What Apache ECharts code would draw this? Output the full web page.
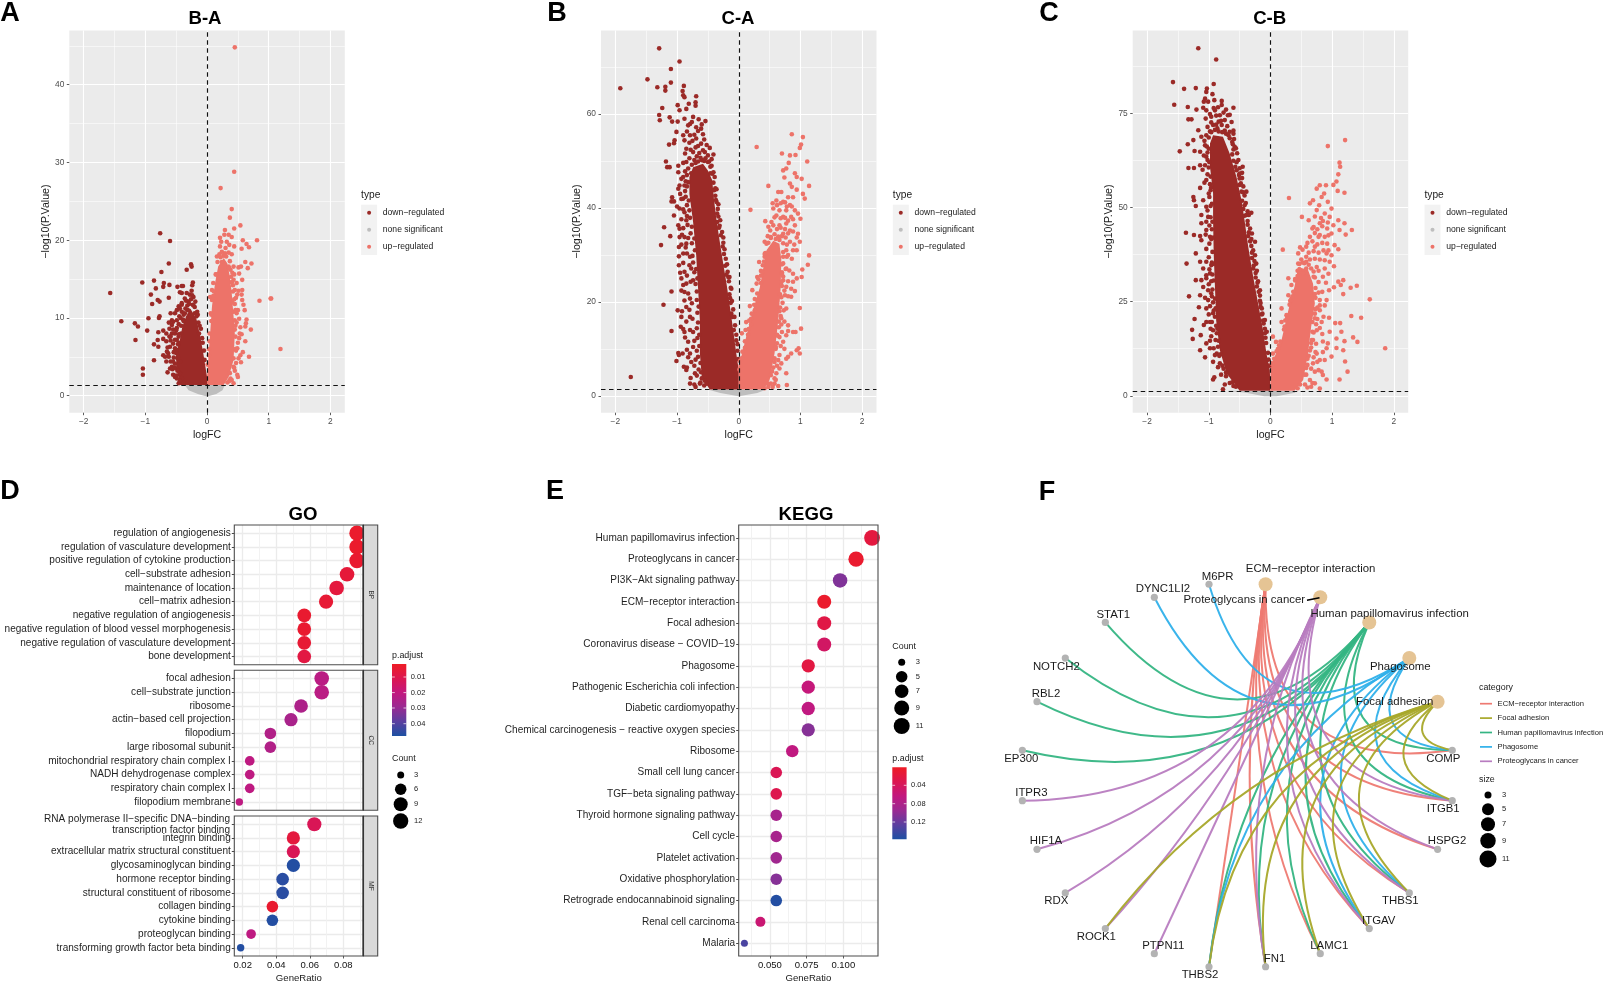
<!DOCTYPE html>
<html><head><meta charset="utf-8">
<style>html,body{margin:0;padding:0;background:#fff}#c{width:1606px;height:985px}</style>
<script src="https://cdn.jsdelivr.net/npm/echarts@6/dist/echarts.min.js"></script>
</head><body><div id="c"></div>
<script>
/* ---------- volcano data: dense-core outlines and individually read points ---------- */
const baGrey=[[-.36,1.37],[-.3,.7],[-.15,.2],[0,-.1],[.15,.2],[.25,.7],[.29,1.37]];
const baDownCore=[[-.44,1.37],[-.5,3.7],[-.5,5.5],[-.44,7.2],[-.4,8.9],[-.34,10.2],[-.27,11.2],[-.17,9.8],[-.11,7.6],[-.06,5.4],[0,2.4],[0,1.37]];
const baUpCore=[[0,1.37],[.27,1.37],[.35,2.4],[.43,4.6],[.45,8],[.43,10.2],[.4,13.2],[.37,15.3],[.33,17],[.27,17.7],[.18,16.6],[.13,14.5],[.08,11.5],[.05,8],[.02,4.6],[0,2.4]];
const baDown=[[-1.57,13.2],[-1.39,9.57],[-1.17,9.3],[-1.12,8.9],[-1.16,7.17],[-.97,8.37],[-.95,9.96],[-1.04,3.5],[-1.04,2.7],[-1.05,14.55],[-.86,14.8],[-.91,13],[-.89,11.8],[-.83,13.8],[-.8,12.3],[-.77,12.1],[-.7,14.5],[-.71,14],[-.61,14.25],[-.62,12.6],[-.76,20.9],[-.6,19.9],[-.62,17],[-.74,15.9],[-.33,16.2],[-.26,16.9],[-.25,16.6],[-.48,14],[-.41,14.1],[-.39,14.1],[-.23,14.55],[-.24,14.2],[-.44,13.3],[-.41,13.2],[-.25,13.5],[-.33,13.2],[-.28,13],[-.22,12.7],[-.36,12.5],[-.3,12.1],[-.19,12.1],[-.41,11.7],[-.23,11.7],[-.77,10.2],[-.78,10],[-.79,8.15],[-.71,8.37],[-.8,7.17],[-.71,7.3],[-.86,6.6],[-.79,6.3],[-.86,4.55],[-.71,5.2],[-.68,5],[-.63,5.45],[-.65,5.67],[-.59,10.6],[-.57,9.7],[-.57,9.1],[-.55,8.5],[-.57,8],[-.59,7.6],[-.52,10.6],[-.49,11],[-.46,11.5],[-.44,11.2],[-.41,11.9],[-.59,7.1],[-.55,6.7],[-.6,6.3],[-.52,6.1],[-.49,7.2],[-.46,7.6],[-.52,8],[-.49,8.7],[-.55,9.5],[-.49,9.7],[-.45,10.2],[-.41,10.8],[-.38,10.4],[-.6,3.5],[-.57,3.7],[-.64,3],[-.52,4.1],[-.49,3.5],[-.55,2.7],[-.44,2.9],[-.41,2.2],[-.49,2.2],[-.46,1.6],[-.38,1.6],[-.55,4.4],[-.48,4.8],[-.44,4.4],[-.5,5.5],
[-.34,12.2],[-.26,12.4],[-.2,11.4],[-.32,11.6],[-.15,10.4],[-.14,9.4],[-.36,10.6],[-.43,10],[-.46,9.2],[-.42,9],[-.5,8.4],[-.46,7.9],[-.52,7.2],[-.47,6.6],[-.5,5.9],[-.54,5.6],[-.47,5],[-.54,4.9],[-.56,3.4],[-.48,3.2],[-.52,2.4],[-.44,1.9],[-.1,8.6],[-.08,7.4],[-.05,5.8],[-.17,10.2],[-.24,12.9],[-.31,11],[-.39,9.8],[-.61,7.6],[-.66,7],[-.64,6.2],[-.62,5],[-.66,4.4],[-.59,4.4],[-.62,9.4],[-.61,8.6],[-.66,8],
[-.12,9],[-.07,6.8],[-.04,4.6],[-.2,10.6],[-.22,11.6],[-.29,11.8],[-.35,11.2],[-.38,9.6],[-.42,8],[-.46,6.8],[-.53,3.6],[-.5,2.6],[-.16,10.8],[-.13,8]];
const baUp=[[.45,44.8],[.44,28.8],[.22,26.7],[.4,24],[.37,22.9],[.54,21.9],[.44,21.5],[.29,21.3],[.81,20],[.58,20],[.64,19.5],[.68,19.1],[.44,19.2],[.56,18.9],[.62,17.2],[.72,17],[.66,16.4],[.51,16.5],[.55,16.6],[.52,15.7],[.44,15.6],[.57,14.9],[.48,14.5],[.51,13.5],[.57,13.6],[.49,13],[.56,13],[.57,12.3],[.85,12.2],[1.03,12.5],[1.04,12.5],[.59,11.7],[.61,11],[.43,10.8],[.64,9.8],[.63,9.3],[.62,8.9],[.71,8.5],[.54,8.8],[.45,8.5],[.56,7.9],[.46,7.6],[.62,7],[1.19,6],[.49,6.1],[.58,5.6],[.54,5.2],[.68,5],[.43,4.8],[.51,4.8],[.55,4.3],[.47,4.2],[.43,3.7],[.49,2.7],[.5,2.4],[.43,1.6],[.37,2.9],[.21,20.3],[.28,20.7],[.35,20.7],[.4,20.4],[.21,19.2],[.24,18.5],[.32,19.8],[.36,19.4],[.16,17.9],[.4,18.2],[.29,18.3],[.37,17.3],[.43,16.6],[.39,15.3],[.43,14.9],[.1,14.5],[.08,13.6],[.05,12.7],[.08,12.3],[.45,13.6],[.48,10.6],[.45,9.7],
[.23,19.8],[.3,19],[.27,18],[.35,18.4],[.2,18.2],[.17,17.2],[.24,17.2],[.35,16.6],[.41,15.8],[.38,16.2],[.14,15.6],[.11,13.4],[.42,14.2],[.47,12.6],[.45,11.8],[.06,10.6],[.07,9.6],[.48,9.4],[.52,7.4],[.5,6.8],[.47,5.8],[.45,3.2],[.4,2],[.33,1.7],[.04,7],[.03,5.2],[.5,11],[.46,11],[.52,9.9],[.53,8],[.41,12],[.36,1.9],
[.46,6],[.46,9],[.44,12.4],[.42,13.4],[.4,14.6],[.36,16.4],[.31,17.9],[.22,17.8],[.15,15.6],[.1,12.8],[.07,10.4],[.04,8],[.03,6],[.01,4],[.44,3.6],[.38,2.2]];

const caGrey=[[-.5,1.35],[-.3,.6],[0,-.1],[.3,.6],[.45,1.35]];
const caDownCore=[[-.47,1.35],[-.6,4],[-.63,9],[-.63,16],[-.66,23],[-.69,30],[-.74,37],[-.8,43],[-.8,46.6],[-.74,48.7],[-.58,49.4],[-.5,48],[-.43,45.9],[-.4,41.6],[-.36,37.4],[-.31,33],[-.25,28],[-.2,24],[-.15,19.6],[-.09,14],[-.04,9],[0,5.5],[0,1.35]];
const caUpCore=[[0,1.35],[.4,1.35],[.5,3.3],[.58,9],[.64,16],[.68,23],[.69,29],[.66,32.4],[.56,33],[.45,31],[.4,27.4],[.34,23],[.23,18.2],[.12,12.5],[.04,8.3],[0,6.2]];
const caDown=[[-1.29,74],[-.96,71.2],[-1.1,69.6],[-1.48,67.4],[-1.1,66.7],[-1.92,65.5],[-1.32,65.7],[-1.19,65.8],[-1.19,65],[-.89,66],[-.91,64.9],[-.9,64],[-.88,63.6],[-.69,63.8],[-.99,61.9],[-.81,62.2],[-.7,62.5],[-.7,61.8],[-1.24,61.3],[-.96,60.8],[-.85,61.1],[-1.29,59.8],[-1.28,58.7],[-1.12,59.3],[-1.08,58.4],[-.99,58.4],[-.88,59],[-.74,59.4],[-.65,58.9],[-.54,58.5],[-.79,57.9],[-.69,57.2],[-.61,56.9],[-1.01,56.2],[-.9,55.5],[-.79,55.5],[-1.04,54.4],[-1.13,53.5],[-1.05,53.8],[-.88,54.4],[-.69,54.8],[-.61,53.7],[-.47,52.8],[-.55,51.9],[-.41,51.4],[-.85,52.6],[-.74,51.9],[-.5,51.2],[-1.18,49.9],[-1.16,48.7],[-1.12,48.7],[-.98,49],[-.98,47.6],[-.85,49.8],[-.9,46.6],[-.96,44.8],[-.88,44.8],[-.95,43],[-1.08,42.3],[-1.09,41.4],[-1.05,41.4],[-.9,42],[-.96,39.9],[-1.05,38.4],[-.88,39.1],[-.85,37.4],[-.96,35.6],[-1.21,35.9],[-1.11,34],[-.96,33.8],[-1.26,32.1],[-.88,33.8],[-.97,31.7],[-.85,32.4],[-.9,30.3],[-.79,29.6],[-.97,27.8],[-.88,26.4],[-.77,27.1],[-.93,25],[-.85,23.9],[-.74,24.6],[-1.09,22.2],[-.88,22.1],[-.79,20.7],[-1.22,19.4],[-.99,18.2],[-.85,18.9],[-.93,16.8],[-.79,16.8],[-.94,14.7],[-1.09,13.8],[-.88,13.6],[-.79,14],[-.82,11.5],[-.98,9.1],[-.97,8.7],[-.79,9],[-.91,9],[-1.01,7.4],[-.89,6.2],[-.77,7.2],[-.85,5.5],[-1.75,4],[-.71,4.8],[-.79,2.6],[-.7,1.9],[-.63,2.6],[-.6,3.7],[-.25,33.7],[-.35,37],[-.36,41.3],[-.4,43.8],[-.43,47.3],[-.17,25.3],[-.15,25.3],[-.12,22.8],[-.12,17.5],[-.1,16.8],[-.08,14],[-.04,11.8],
[-.82,57.6],[-.76,58.3],[-.6,57.8],[-.84,56.3],[-.72,55.6],[-.66,56.4],[-.58,55.7],[-.8,53.9],[-.75,54.3],[-.66,53.2],[-.56,54.6],[-.52,53.4],[-.87,51.6],[-.78,52.4],[-.7,52.9],[-.64,51.7],[-.58,52.3],[-.9,49.6],[-.8,50.6],[-.72,50.2],[-.62,50.7],[-.48,49.9],[-.44,50.4],[-.87,47.8],[-.82,48.4],[-.46,48.8],[-.41,47.6],[-.93,46.2],[-.86,45.7],[-.41,45.4],[-.98,44.1],[-.87,43.6],[-.84,44.6],[-.38,44.2],[-.93,41.9],[-.86,42.4],[-.37,41.7],[-1,40.3],[-.9,39.7],[-.84,40.6],[-.34,39.8],[-.93,37.6],[-.84,38.3],[-.79,37.9],[-.33,38.2],[-.98,36.3],[-.9,35.7],[-.83,36.4],[-.32,35.8],[-.92,34.3],[-.82,33.6],[-.78,34.6],[-.29,34.2],[-.93,32.2],[-.86,31.6],[-.76,32.5],[-.26,31.8],[-.97,29.7],[-.84,30.3],[-.75,29.8],[-.24,30.2],[-.9,28.3],[-.8,27.8],[-.74,28.4],[-.22,27.7],[-.95,26.2],[-.84,25.6],[-.72,26.3],[-.2,25.8],[-.9,23.6],[-.78,24.3],[-.7,23.8],[-.82,21.8],[-.93,22.4],[-.68,22.2],[-.15,21.6],[-.88,20.3],[-.76,19.7],[-.68,20.4],[-.13,19.8],[-.92,18],[-.8,18.3],[-.67,17.7],[-.85,15.8],[-.75,16.4],[-.66,15.6],[-.9,14.2],[-.74,13.6],[-.68,14.4],[-.87,12.4],[-.72,11.7],[-.67,12.3],[-.84,9.8],[-.74,10.4],[-.68,9.6],[-.82,8.2],[-.7,7.7],[-.66,8.3],[-.84,6],[-.72,6.4],[-.65,5.6],[-.78,3.8],[-.68,4.3],[-.72,2.4],[-.62,2.8],[-.56,2.2],[-.52,2.6],
[-.44,49],[-.39,46.6],[-.36,44],[-.38,42.6],[-.33,40.8],[-.35,38.8],[-.3,37.4],[-.31,36.2],[-.27,34.9],[-.25,32.6],[-.23,31.2],[-.21,29.2],[-.19,28],[-.18,26.4],[-.16,24.4],[-.13,23],[-.14,20.8],[-.11,20.2],[-.09,18.4],[-.07,16.8],[-.06,15],[-.04,13],[-.02,11],[-.02,9.6],[-.01,7.8],[-.77,47.4],[-.7,49.6],[-.66,49.9],[-.6,50.2],[-.54,50.6],[-.5,49.8],[-.68,51],[-.76,49.2],[-.56,50],[-.46,47.4],[-.82,45.5],[-.84,47],[-.81,41.6],[-.8,39.5],[-.76,36],[-.72,33.5],[-.71,31],[-.69,27],[-.67,25],[-.65,19],[-.64,13],[-.64,10.6],[-.62,7],[-.61,5],[-.55,3.2]];
const caUp=[[.86,55.7],[1.04,55.1],[.29,53],[1.01,53.5],[.99,52.8],[.7,51.6],[.83,51.2],[.92,51.3],[1.11,49.9],[.81,49.6],[.77,48.4],[.72,48],[.91,47.4],[.74,46.5],[.94,46.6],[1.02,46.2],[.83,45.2],[1.14,44.7],[.48,44.7],[.86,44.5],[.94,43.9],[.64,43.4],[.69,43.4],[1.04,43],[1.07,42],[.8,42.3],[.88,42.3],[.61,41.6],[.72,41.3],[.19,39.6],[.83,40.6],[.56,39.9],[.66,39.5],[.77,39.5],[.91,39.5],[.96,38.8],[.61,38.4],[.72,38.1],[.85,38.1],[1,37.7],[.43,37.2],[.53,37],[.77,36.7],[.66,36.3],[.91,36.3],[.51,35.2],[.72,34.5],[.83,35.2],[.96,34.5],[.94,33.7],[.42,32.8],[.99,32.8],[.83,32.8],[.77,31],[.88,31],[1.14,29.9],[.94,31],[.72,29.6],[.78,29.6],[.33,28.5],[.39,27.8],[1.12,27.9],[1.03,26.9],[.77,27.1],[.3,25.3],[.94,25],[1.02,25.3],[.29,23.9],[.88,24.3],[.72,24.6],[.77,23.2],[.85,22.8],[.91,22.3],[.22,22.5],[.75,21.4],[.85,21.1],[.18,19.1],[.99,18.7],[.77,18.6],[.21,17.5],[.69,16.5],[.12,15.7],[.8,15],[1.01,14.3],[.88,13.6],[.92,13.6],[.8,13.8],[.77,12.9],[.05,13.3],[.11,14],[.66,12.5],[.72,11.5],[.94,9.7],[.97,10.1],[.99,9],[.85,9],[.8,8.3],[.77,7.9],[.66,8.7],[.64,7.6],[.69,6.9],[.77,4.8],[.61,4.8],[.58,3.7],[.58,2.6],[.78,2.3],[.64,2.1],[.48,1.9],[.42,1.6],
[.55,41],[.62,40.6],[.68,41],[.75,41.2],[.78,40.3],[.86,40.3],[.58,38],[.68,37.8],[.75,37.9],[.8,37.3],[.88,37.6],[.48,36],[.56,36.3],[.62,35.5],[.68,35.8],[.75,35.5],[.8,34.6],[.88,35],[.47,34],[.52,33.8],[.58,34.4],[.64,33.9],[.7,34],[.76,33.7],[.45,32.4],[.72,32.5],[.78,32.2],[.9,32.2],[.72,30.6],[.8,30],[.86,29.2],[.72,28.2],[.76,27],[.82,26.7],[.88,26],[.7,26.3],[.72,25.4],[.8,24.4],[.7,23.4],[.74,22.4],[.8,21.2],[.69,21],[.71,19.8],[.67,18.8],[.73,18.2],[.68,17],[.69,15.2],[.74,15.8],[.65,14.6],[.7,13.6],[.63,12.8],[.62,11.2],[.68,10.6],[.6,10],[.74,10],[.58,7.2],[.62,6.4],[.66,5.8],[.54,5.2],[.6,3.4],[.52,2.6],[.55,1.9],[.36,26.6],[.32,24.8],[.26,20.6],[.2,16.4],[.16,14.2],[.1,11.6],[.3,21.8],[.25,19.4],[.17,16],[.36,25.6],[.42,29.6],[.43,30.4],[.06,9.4],[.02,7.4],
[.7,28],[.7,26],[.69,24.2],[.67,21.6],[.66,18],[.65,15.8],[.62,13],[.6,10.4],[.58,8],[.56,6],[.52,4.4],[.47,2.6],[.41,28.6],[.38,26.4],[.36,24],[.3,20.4],[.26,18.2],[.2,15.2],[.15,13],[.1,10.2],[.05,8],[.03,6.4],[.01,5.6],[.48,32.6],[.52,33.6],[.6,33.4],[.66,33.2],[.42,30.2]];

const cbGrey=[[-.7,1.33],[-.4,.8],[-.1,-.1],[.1,-.1],[.4,.8],[.4,1.33]];
const cbDownCore=[[-.5,1.33],[-.71,5.9],[-.82,12.1],[-.88,20],[-.9,29],[-.92,37.8],[-.93,46.6],[-.93,53.7],[-.98,60.8],[-.98,67],[-.93,69.2],[-.77,68.8],[-.66,64.3],[-.55,58],[-.47,52],[-.42,46.6],[-.36,39.6],[-.28,31.6],[-.2,24.5],[-.12,17.4],[-.065,11.2],[-.01,6.8],[0,1.33]];
const cbUpCore=[[0,1.33],[.39,1.33],[.53,4.2],[.61,11.2],[.66,18.3],[.72,24.5],[.69,29.8],[.61,33.4],[.45,34.2],[.39,29],[.29,22.7],[.18,14.8],[.07,10.4],[0,7.7]];
const cbDown=[[-1.17,92.3],[-.88,89.3],[-1.58,83.3],[-.92,82.8],[-1.4,81.5],[-1.21,81.7],[-1.03,81.6],[-1.04,80.7],[-.94,80.1],[-1.56,77.3],[-1.06,78.9],[-1.08,78.1],[-1.01,78.1],[-.91,78.5],[-.79,78.3],[-1.34,76.7],[-1.09,76.5],[-.79,77.2],[-.6,76.5],[-1.2,76],[-1.04,75.8],[-.9,75.8],[-1.33,73.4],[-1.28,73.4],[-.96,74.1],[-.82,74.5],[-.69,74.5],[-1.17,70.5],[-.93,71.9],[-.79,71.9],[-.63,72.7],[-.66,70.1],[-1.12,68.8],[-1.25,67.9],[-1.34,66.8],[-1.06,66.5],[-1.23,65],[-1.47,64.9],[-1.14,64.8],[-.58,66.1],[-1.04,63.5],[-.56,65.7],[-1.33,60.5],[-1.24,60.5],[-1.14,61.2],[-1.06,61.2],[-.45,60.8],[-.46,59.2],[-.55,59.9],[-1.04,57.3],[-.5,57.7],[-1.14,55.2],[-.39,54.2],[-1,53.7],[-1.25,52.8],[-1.24,51.9],[-1.09,51.9],[-1.21,50.4],[-.31,48.6],[-.35,48],[-1.04,50.2],[-1.12,48],[-1.01,47.5],[-1.04,46.2],[-1.12,45.8],[-1.37,43.3],[-1.24,42.7],[-1.14,42.4],[-1.04,44],[-.98,42.2],[-.3,43.1],[-.25,40.9],[-1.12,41.3],[-1.21,37.8],[-1.36,35.1],[-1.14,35.6],[-1.04,35.6],[-.96,34.7],[-.25,37.3],[-.23,35.1],[-1.09,33.8],[-.98,32.5],[-1.21,30.7],[-1.12,30.7],[-1.04,31.2],[-1.09,28.9],[-1.32,26.4],[-1.01,28],[-1.14,26.7],[-.96,27.2],[-1.01,25.4],[-.17,28],[-.16,23.6],[-1.16,23.5],[-1.04,23.2],[-.93,21.9],[-1.23,20.4],[-1.04,19.6],[-1.08,18.8],[-.98,19.6],[-1.27,17.5],[-1.13,16.1],[-.93,17.4],[-1.26,15.1],[-1.04,13.9],[-1.14,12.1],[-.98,12.6],[-1.06,10.2],[-.87,11.2],[-.93,9],[-.82,8.6],[-.93,4.3],[-.91,4.9],[-.77,1.7],[-.09,20.1],[-.06,17],
[-.92,76.4],[-.85,76.6],[-.72,76],[-.98,74.8],[-.88,74.4],[-.76,75.2],[-.66,74.6],[-1.05,73.6],[-.96,72.6],[-.84,72.8],[-.74,73.2],[-.7,71.6],[-1.02,71.4],[-.98,70.2],[-.86,71],[-.74,70.4],[-.6,70.4],[-1.04,69.2],[-1.07,67.7],[-.66,68.4],[-.59,68.2],[-1.03,66.2],[-.61,66.8],[-1.02,64.6],[-1.08,63.8],[-.62,64.1],[-.54,64.4],[-1.02,62.6],[-.6,62.4],[-.52,62.6],[-1,60.6],[-1.1,60],[-.57,60.8],[-.5,60.4],[-1.02,58.8],[-.97,58.2],[-.51,58.6],[-.46,57.8],[-.98,56.2],[-1.07,56.6],[-.5,56],[-.44,55.6],[-.97,54.6],[-.47,54.2],[-.42,53.2],[-.99,52.8],[-.46,51.8],[-.4,51.2],[-.97,50.4],[-1.02,49.2],[-.44,49.6],[-.37,49],[-.97,47.4],[-.42,47.8],[-.99,45.2],[-.95,44.2],[-.37,45.4],[-.33,44.4],[-1.05,42.8],[-.96,41.6],[-.36,42.4],[-.31,41.6],[-.99,40.4],[-1.04,39],[-.94,38.2],[-.31,39.8],[-.28,38.6],[-1,36.8],[-.95,35.4],[-.3,36.6],[-.26,35.8],[-.99,33.6],[-.94,32.2],[-.28,33.8],[-.22,33.2],[-1.04,32],[-.96,30.4],[-.24,31.4],[-.2,30.4],[-1,29.6],[-.94,28.2],[-.22,29],[-.17,26.6],[-.95,26.4],[-1.06,26],[-.93,24.8],[-.17,25.2],[-.98,23.8],[-.92,22.6],[-.14,23.2],[-1,21.6],[-.9,21],[-.14,21.6],[-.95,19.6],[-.88,18.6],[-.11,19.2],[-.97,17.8],[-.87,16.6],[-.09,17.8],[-.96,15.8],[-.89,14.8],[-.08,15.4],[-.98,14.6],[-.85,13],[-.92,12.6],[-.83,10.6],[-.9,10.8],[-.78,8],[-.85,7.6],[-.72,5.2],[-.8,5.6],[-.66,3.4],[-.6,2.6],[-.74,3],
[-.6,69.6],[-.62,67.4],[-.6,65.4],[-.55,62],[-.5,59],[-.48,56.4],[-.44,54],[-.42,50.6],[-.39,48],[-.37,46.4],[-.35,43.4],[-.33,41],[-.3,38],[-.27,34.6],[-.24,32.6],[-.21,30],[-.19,27.6],[-.16,24.6],[-.13,21.8],[-.12,20],[-.09,16.6],[-.07,14],[-.04,11.4],[-.03,9.6],[-.02,8],[-.96,70],[-.9,70.6],[-.84,70.2],[-.78,70],[-.72,69.6],[-.68,69.2],[-.88,72],[-.8,73],[-1,68.6],[-1,65.6],[-.99,62],[-.96,55.4],[-.95,51],[-.94,46.2],[-.93,42],[-.93,35],[-.92,30.6],[-.9,25.8],[-.89,23.2],[-.86,17.8],[-.84,14.6],[-.81,11],[-.76,7.2],[-.72,6.2],[-.62,3.6],[-.56,2.4]];
const cbUp=[[1.21,67.9],[.93,66.3],[1.12,61.9],[1.13,60.8],[1.1,58.8],[1.07,56.9],[1.02,56],[.9,55.9],[.8,55.9],[.75,55],[1.09,54.4],[1.2,53.9],[.87,53.7],[.3,52.5],[.83,52.8],[.69,51.9],[.93,51.5],[.64,51.1],[.79,50.6],[.99,49.7],[.75,49.3],[.51,47.5],[.88,48.4],[.62,46.6],[.96,47.5],[1.1,46.6],[1.2,45.8],[1.02,45.3],[1.32,44],[.8,45.8],[.68,44.4],[1.12,44],[1.22,42.8],[.99,43.1],[.64,42.2],[.8,42.7],[.88,42.2],[.48,39.4],[.2,38.8],[1.1,38.9],[1.04,40],[.58,39.6],[.72,39.6],[.45,37.8],[.91,37.8],[.99,37.3],[.58,36.9],[.45,35.1],[1.03,34.4],[.88,33.8],[.75,34.2],[.53,32.5],[.85,31.6],[1.18,30.7],[1.1,30.3],[.29,31.2],[1.14,29.4],[1.4,29.2],[1.03,28.8],[1.3,28.7],[.34,29.4],[1.18,27],[.29,26.7],[1.61,25.6],[.8,25.4],[.91,25.4],[.18,23.2],[.8,22.7],[1.31,21.2],[1.47,20.7],[.95,20.7],[.83,19.6],[1.05,19.3],[1.13,19.3],[.18,19.6],[.96,17],[1.15,17],[.75,17.4],[.69,14.8],[1.34,15.5],[1.2,14.5],[1.41,14.3],[1.07,15.2],[.93,13.9],[1.07,12.7],[1.86,12.6],[1.18,12.1],[.91,12.6],[.75,11.2],[.99,10.4],[1.21,9.1],[.8,9.5],[.88,9.5],[.69,8.6],[1.25,6.4],[.83,6.4],[.85,5.5],[.91,4.3],[1.12,4.3],[.72,3.3],[.8,1.9],[.66,2.4],[.04,15.7],[.09,14.3],[.04,11.2],
[.72,47.6],[.82,47.2],[.85,46.4],[.93,46],[.7,44.8],[.76,44.2],[.84,45],[.92,44.4],[.72,43.2],[.78,42.2],[.94,42.6],[.6,40.6],[.68,41],[.76,40.2],[.84,40.6],[.92,40.4],[.52,38.8],[.62,38],[.7,38.4],[.78,38],[.86,38.6],[.94,38.6],[.5,36.2],[.55,35.2],[.64,36.2],[.72,36.4],[.8,36.2],[.88,36],[.96,35.6],[.47,33.6],[.58,33.8],[.7,33],[.78,33.2],[.94,32.4],[.44,31.8],[.72,31.4],[.78,30.2],[.9,30],[.73,28.6],[.78,27.4],[.84,27.6],[.95,28],[.73,26],[.8,24],[.76,23.4],[.88,24],[.72,21.8],[.76,20.4],[.86,21],[.68,19.6],[.74,19],[.8,18],[.7,16.8],[.84,16.4],[.67,14.8],[.74,13.8],[.85,14.4],[.66,12.8],[.73,11.6],[.85,11.6],[.62,10.6],[.7,10.2],[.76,9],[.6,8.2],[.66,7.2],[.72,6.4],[.78,6.8],[.58,5.6],[.64,4.2],[.68,3.4],[.56,3],[.6,2.2],[.34,25.8],[.26,21.4],[.22,17.6],[.14,13.4],[.1,11.8],[.32,25.2],[.24,20],[.4,30.6],[.37,27.6],[.02,8.6],
[.73,23],[.72,20.6],[.68,17],[.66,14],[.64,12],[.6,9.8],[.58,7.4],[.55,5.6],[.48,3],[.44,2],[.72,27],[.7,31.6],[.4,31],[.36,26.4],[.31,24.2],[.27,20.6],[.23,18.4],[.16,14.4],[.12,12.4],[.06,9.8],[.03,8.4],[.47,35],[.52,35.4],[.58,35.6],[.62,34.8],[.66,33.8],[.44,33.2]];

const typeLabels=['down−regulated','none significant','up−regulated'];

/* ---------- GO dot plot ---------- */
const goBP=['regulation of angiogenesis','regulation of vasculature development','positive regulation of cytokine production','cell−substrate adhesion','maintenance of location','cell−matrix adhesion','negative regulation of angiogenesis','negative regulation of blood vessel morphogenesis','negative regulation of vasculature development','bone development'];
const goBPratio=[.0881,.0881,.0881,.0822,.076,.0697,.0567,.0567,.0567,.0567];
const goBPcount=[12,12,12,11,11,10,9,9,9,9];
const goBPp=[.003,.003,.004,.006,.007,.005,.004,.004,.005,.008];
const goCC=['focal adhesion','cell−substrate junction','ribosome','actin−based cell projection','filopodium','large ribosomal subunit','mitochondrial respiratory chain complex I','NADH dehydrogenase complex','respiratory chain complex I','filopodium membrane'];
const goCCratio=[.0671,.0671,.0548,.0488,.0365,.0365,.0242,.0242,.0242,.018];
const goCCcount=[11,11,9,8,6,6,4,4,4,3];
const goCCp=[.022,.022,.025,.026,.024,.024,.021,.021,.021,.021];
const goMF=['RNA polymerase II−specific DNA−binding\ntranscription factor binding','integrin binding','extracellular matrix structural constituent','glycosaminoglycan binding','hormone receptor binding','structural constituent of ribosome','collagen binding','cytokine binding','proteoglycan binding','transforming growth factor beta binding'];
const goMFratio=[.0627,.0502,.0502,.0502,.0438,.0438,.0377,.0377,.025,.0188];
const goMFcount=[10,8,8,8,7,7,6,6,4,3];
const goMFp=[.012,.007,.012,.047,.046,.046,.004,.047,.021,.047];

/* ---------- KEGG dot plot ---------- */
const kegg=['Human papillomavirus infection','Proteoglycans in cancer','PI3K−Akt signaling pathway','ECM−receptor interaction','Focal adhesion','Coronavirus disease − COVID−19','Phagosome','Pathogenic Escherichia coli infection','Diabetic cardiomyopathy','Chemical carcinogenesis − reactive oxygen species','Ribosome','Small cell lung cancer','TGF−beta signaling pathway','Thyroid hormone signaling pathway','Cell cycle','Platelet activation','Oxidative phosphorylation','Retrograde endocannabinoid signaling','Renal cell carcinoma','Malaria'];
const keggRatio=[.1196,.1087,.0978,.087,.087,.087,.0761,.0761,.0761,.0761,.0652,.0543,.0543,.0543,.0543,.0543,.0543,.0543,.0435,.0326];
const keggCount=[11,10,9,8,8,8,7,7,7,7,6,5,5,5,5,5,5,5,4,3];
const keggP=[.02,.008,.108,.006,.025,.045,.022,.06,.065,.105,.065,.035,.03,.085,.085,.09,.105,.155,.055,.135];

/* ---------- gene-concept network ---------- */
const cnetOrder=['ECM−receptor interaction','Proteoglycans in cancer','Human papillomavirus infection','Phagosome','Focal adhesion','COMP','ITGB1','HSPG2','THBS1','ITGAV','LAMC1','FN1','THBS2','PTPN11','ROCK1','RDX','HIF1A','ITPR3','EP300','RBL2','NOTCH2','STAT1','DYNC1LI2','M6PR'];
const cnetEcm=['COMP','ITGB1','HSPG2','THBS1','ITGAV','LAMC1','FN1','THBS2'];
const cnetFocal=['COMP','ITGB1','THBS1','ITGAV','LAMC1','FN1','THBS2','ROCK1'];
const cnetHpv=['COMP','ITGB1','THBS1','ITGAV','LAMC1','FN1','THBS2','EP300','RBL2','NOTCH2','STAT1'];
const cnetPhago=['COMP','ITGB1','THBS1','ITGAV','THBS2','DYNC1LI2','M6PR'];
const cnetProteo=['HSPG2','ITGB1','THBS1','ITGAV','FN1','PTPN11','ROCK1','RDX','HIF1A','ITPR3'];

/* ---------- styling tables ---------- */
const FONT='"Liberation Sans",Arial,sans-serif';
const C={down:'#9B2A27',up:'#ED7369',none:'#BEBEBE'};
const padjStops=['#EE1C25','#DC1650','#C2187F','#9A2A92','#5B3FA0','#1D50A2'];
const goSize={3:7.4,4:9.7,6:11.6,7:12.6,8:13.2,9:13.7,10:14.2,11:14.6,12:15.2};
const keggSize={3:7,4:10,5:11.6,6:12.4,7:13.3,8:14,9:14.5,10:15.3,11:15.8};
const labelNudge={'ECM−receptor interaction':[45,-15.6],'Proteoglycans in cancer':[-76,2.6],'Human papillomavirus infection':[20.4,-8.7],'Phagosome':[-9,8.7],'Focal adhesion':[-43,0],COMP:[-9,8.4],ITGB1:[-9,8.3],HSPG2:[9.4,-8.4],THBS1:[-9,8.3],ITGAV:[9.4,-8],LAMC1:[9,-8],FN1:[9,-8],THBS2:[-9,8.4],PTPN11:[9,-8],ROCK1:[-9,8.3],RDX:[-9,8.3],HIF1A:[9,-8],ITPR3:[9,-8],EP300:[-1,8.4],RBL2:[9,-8.3],NOTCH2:[-9,8.7],STAT1:[8,-8],DYNC1LI2:[8.6,-8],M6PR:[8.6,-7.6]};

const grids=[],xAxes=[],yAxes=[],series=[],gfx=[],titles=[];
const minus=v=>String(v).replace('-','−');
function txt(s,x,y,o={}){gfx.push({type:'text',z:50,silent:true,x,y,rotation:o.rot||0,style:{text:s,fill:o.color||'#1a1a1a',font:(o.bold?'bold ':'')+(o.size||9)+'px '+FONT,textAlign:o.align||'left',textVerticalAlign:'middle'}});}
function rect(x,y,w,h,o={}){gfx.push({type:'rect',z:o.z||40,silent:true,shape:{x,y,width:w,height:h},style:{fill:o.fill||'none',stroke:o.stroke||null,lineWidth:o.lw||1}});}
function circ(x,y,d,col){gfx.push({type:'circle',z:50,silent:true,shape:{cx:x,cy:y,r:d/2},style:{fill:col}});}
function seg(x1,y1,x2,y2,col,lw){gfx.push({type:'line',z:50,silent:true,shape:{x1,y1,x2,y2},style:{stroke:col,lineWidth:lw}});}
function addGrid(left,top,w,h,bg){grids.push({left,top,width:w,height:h,show:!!bg,backgroundColor:bg||'transparent',borderWidth:0});return grids.length-1;}
const noLine={show:false,onZero:false};

function polySeries(g,xi,yi,poly,col){series.push({type:'custom',xAxisIndex:xi,yAxisIndex:yi,data:poly,silent:true,encode:{x:0,y:1},renderItem(p,api){if(p.dataIndex!==0)return null;return{type:'polygon',shape:{points:poly.map(v=>api.coord(v))},style:{fill:col}};}});}

function volcano(o){
  const g=addGrid(o.left,30.5,275.5,382.2,'#EBEBEB');
  const xi=xAxes.length,yi=yAxes.length;
  const xMaj=[-2,-1,0,1,2],xMin=[-1.5,-.5,.5,1.5];
  xAxes.push({type:'value',gridIndex:g,min:-2.233,max:2.233,position:'bottom',axisLine:noLine,
    axisTick:{show:true,length:2.5,customValues:xMaj,lineStyle:{color:'#333',width:.8}},
    axisLabel:{customValues:xMaj,formatter:minus,color:'#4d4d4d',fontSize:8.4,fontFamily:FONT,margin:5},
    splitLine:{show:true,lineStyle:{color:'#fff',width:1.1}},
    name:'logFC',nameLocation:'middle',nameGap:17,nameTextStyle:{fontSize:10.6,color:'#1a1a1a',fontFamily:FONT}});
  xAxes.push({type:'value',gridIndex:g,min:-2.233,max:2.233,position:'top',axisLine:noLine,axisLabel:{show:false},
    axisTick:{show:false,customValues:xMin},splitLine:{show:true,lineStyle:{color:'#fff',width:.55}}});
  yAxes.push({type:'value',gridIndex:g,min:o.ymin,max:o.ymax,position:'left',axisLine:noLine,
    axisTick:{show:true,length:2.5,customValues:o.yMaj,lineStyle:{color:'#333',width:.8}},
    axisLabel:{customValues:o.yMaj,color:'#4d4d4d',fontSize:8.4,fontFamily:FONT,margin:5},
    splitLine:{show:true,lineStyle:{color:'#fff',width:1.1}},
    name:'−log10(P.Value)',nameLocation:'middle',nameGap:o.nameGap,nameRotate:90,nameTextStyle:{fontSize:10.6,color:'#1a1a1a',fontFamily:FONT}});
  yAxes.push({type:'value',gridIndex:g,min:o.ymin,max:o.ymax,position:'right',axisLine:noLine,axisLabel:{show:false},
    axisTick:{show:false,customValues:o.yMin},splitLine:{show:true,lineStyle:{color:'#fff',width:.55}}});
  polySeries(g,xi,yi,o.grey,C.none);
  polySeries(g,xi,yi,o.downCore,C.down);
  polySeries(g,xi,yi,o.upCore,C.up);
  const sc=(name,data,col)=>series.push({name,type:'scatter',xAxisIndex:xi,yAxisIndex:yi,data,symbolSize:4.6,itemStyle:{color:col,opacity:1},silent:true});
  sc(typeLabels[0],o.down,C.down);
  sc(typeLabels[2],o.up,C.up);
  series.push({type:'scatter',xAxisIndex:xi,yAxisIndex:yi,data:[],z:10,silent:true,
    markLine:{silent:true,symbol:'none',animation:false,label:{show:false},lineStyle:{color:'#111',type:[4.5,3.5],width:1.15},data:[{xAxis:0},{yAxis:1.3}]}});
  titles.push({text:o.title,left:o.titleX,top:14,textAlign:'center',textVerticalAlign:'middle',textStyle:{fontFamily:FONT,fontWeight:'bold',fontSize:18.6,color:'#000'}});
  const lx=o.left+275.5+16.3;
  txt('type',lx,195,{size:10.2});
  rect(lx,204.7,16,50.3,{fill:'#F2F2F2',z:41});
  [[212.7,C.down],[229.7,C.none],[246.7,C.up]].forEach((r,i)=>{circ(lx+8,r[0],4,r[1]);txt(typeLabels[i],lx+21.7,r[0],{size:8.6});});
}

volcano({left:69.3,ymin:-2.19,ymax:46.97,yMaj:[0,10,20,30,40],yMin:[5,15,25,35,45],nameGap:17,title:'B-A',titleX:200,grey:baGrey,downCore:baDownCore,upCore:baUpCore,down:baDown,up:baUp});
volcano({left:601,ymin:-3.6,ymax:77.8,yMaj:[0,20,40,60],yMin:[10,30,50,70],nameGap:17,title:'C-A',titleX:733,grey:caGrey,downCore:caDownCore,upCore:caUpCore,down:caDown,up:caUp});
volcano({left:1132.7,ymin:-4.5,ymax:97,yMaj:[0,25,50,75],yMin:[12.5,37.5,62.5,87.5],nameGap:17,title:'C-B',titleX:1264.7,grey:cbGrey,downCore:cbDownCore,upCore:cbUpCore,down:cbDown,up:cbUp});

const ROWFONT=10.05;
function dots(o){
  const g=addGrid(o.left,o.top,o.w,o.h);
  const xi=xAxes.length,yi=yAxes.length;
  const n=o.cats.length,rows=o.cats.map((_,i)=>i);
  xAxes.push({type:'value',gridIndex:g,min:o.xmin,max:o.xmax,position:'bottom',axisLine:noLine,
    axisTick:{show:o.xLabels,length:2.5,customValues:o.xMaj,lineStyle:{color:'#333',width:.8}},
    axisLabel:{show:o.xLabels,customValues:o.xMaj,formatter:o.fmt,color:'#111',fontSize:9.5,fontFamily:FONT,margin:4},
    splitLine:{show:true,lineStyle:{color:'#EBEBEB',width:1.3}},
    name:o.xLabels?'GeneRatio':'',nameLocation:'middle',nameGap:17,nameTextStyle:{fontSize:9.6,color:'#1a1a1a',fontFamily:FONT}});
  xAxes.push({type:'value',gridIndex:g,min:o.xmin,max:o.xmax,position:'top',axisLine:noLine,axisLabel:{show:false},
    axisTick:{show:false,customValues:o.xMin},splitLine:{show:true,lineStyle:{color:'#F0F0F0',width:.9}}});
  yAxes.push({type:'value',gridIndex:g,inverse:true,min:-.6,max:n-1+.6,position:'left',axisLine:noLine,
    axisTick:{show:true,length:2.5,customValues:rows,lineStyle:{color:'#333',width:.9}},
    axisLabel:{customValues:rows,showMinLabel:true,showMaxLabel:true,formatter:v=>o.cats[v].includes('\n')?' ':o.cats[v],color:'#1f1f1f',fontSize:ROWFONT,fontFamily:FONT,margin:3.5,align:'right'},
    splitLine:{show:true,lineStyle:{color:'#EBEBEB',width:1.3}}});
  /* a two-line row label overlaps its neighbour in the reference, so it is placed directly */
  o.cats.forEach((c,i)=>{if(c.includes('\n')){const py=o.top+o.h*(i+.6)/(n+.2);c.split('\n').forEach((t,j)=>txt(t,o.left-4.3,py+(j?5.5:-5),{size:ROWFONT,align:'right',color:'#1f1f1f'}));}});
  series.push({type:'scatter',xAxisIndex:xi,yAxisIndex:yi,data:o.ratio.map((r,i)=>[r,i,o.p[i],o.count[i]]),encode:{x:0,y:1},
    symbolSize:v=>o.size[v[3]],itemStyle:{opacity:1},silent:true,z:5});
  rect(o.left,o.top,o.w,o.h,{stroke:'#4d4d4d',lw:1.1,z:45});
  return series.length-1;
}
const goX={left:234.3,w:129,xmin:.015,xmax:.0919,xMaj:[.02,.04,.06,.08],xMin:[.03,.05,.07,.09],fmt:v=>v.toFixed(2),size:goSize};
const goIdx=[
 dots({...goX,top:525,h:139.7,cats:goBP,ratio:goBPratio,count:goBPcount,p:goBPp,xLabels:false}),
 dots({...goX,top:670.3,h:140,cats:goCC,ratio:goCCratio,count:goCCcount,p:goCCp,xLabels:false}),
 dots({...goX,top:816,h:140,cats:goMF,ratio:goMFratio,count:goMFcount,p:goMFp,xLabels:true})];
[['BP',525,139.7],['CC',670.3,140],['MF',816,140]].forEach(r=>{
  rect(363.3,r[1],14.4,r[2],{fill:'#D9D9D9',stroke:'#4d4d4d',lw:1.1,z:44});
  seg(363.3,r[1],363.3,r[1]+r[2],'#333',1.5);
  txt(r[0],370.5,r[1]+r[2]/2,{size:6.5,align:'center',rot:-Math.PI/2,color:'#333'});
});
const keggIdx=dots({left:738.7,top:525,w:139.3,h:431,cats:kegg,ratio:keggRatio,count:keggCount,p:keggP,xLabels:true,xmin:.0287,xmax:.12365,xMaj:[.05,.075,.1],xMin:[.0375,.0625,.0875,.1125],fmt:v=>v.toFixed(3),size:keggSize});
titles.push({text:'GO',left:298,top:509.7,textAlign:'center',textVerticalAlign:'middle',textStyle:{fontFamily:FONT,fontWeight:'bold',fontSize:18.6,color:'#000'}});
titles.push({text:'KEGG',left:801,top:509.7,textAlign:'center',textVerticalAlign:'middle',textStyle:{fontFamily:FONT,fontWeight:'bold',fontSize:18.6,color:'#000'}});

function colorbar(x,y,h,labs){
  gfx.push({type:'rect',z:41,silent:true,shape:{x,y,width:14.3,height:h},style:{fill:new echarts.graphic.LinearGradient(0,0,0,1,padjStops.map((c,i)=>({offset:i/(padjStops.length-1),color:c})))}});
  labs.forEach(l=>{seg(x,l[1],x+2.8,l[1],'#fff',.7);seg(x+11.5,l[1],x+14.3,l[1],'#fff',.7);txt(l[0],x+18.7,l[1],{size:7.5});});
}
function sizeKey(x,labX,rows){rows.forEach(r=>{circ(x,r[1],r[2],'#000');txt(r[0],labX,r[1],{size:7.5});});}
txt('p.adjust',392,655.5,{size:8.9});
colorbar(392,664,72,[['0.01',677],['0.02',692.6],['0.03',708],['0.04',723.7]]);
txt('Count',392,759,{size:8.9});
sizeKey(400.7,414,[['3',775,7],['6',789.3,11.5],['9',804.3,14],['12',821,15.3]]);
txt('Count',892.3,646.3,{size:8.9});
sizeKey(901.7,915.7,[['3',662.3,7],['5',676.7,11.5],['7',691.3,13.5],['9',708,15],['11',726,16]]);
txt('p.adjust',892.3,758.7,{size:8.9});
colorbar(892.3,767.3,72,[['0.04',785.3],['0.08',803.7],['0.12',822]]);

/* gene-concept network on a unit circle */
const NET={left:1020.5,top:582.6,w:433.6,h:385.8};
const netG=addGrid(NET.left,NET.top,NET.w,NET.h);
const netX=xAxes.length,netY=yAxes.length;
xAxes.push({type:'value',gridIndex:netG,min:-1,max:1,show:false});
yAxes.push({type:'value',gridIndex:netG,min:-1,max:1,show:false});
const N=cnetOrder.length;
const netNodes=cnetOrder.map((name,i)=>{const t=(7.5+15*i)*Math.PI/180,isCat=i<5;
  const sx=Math.sin(t),cy=Math.cos(t);
  const nd=labelNudge[name];
  txt(name,NET.left+NET.w*(sx+1)/2+nd[0],NET.top+NET.h*(1-cy)/2+nd[1],{size:11.4,align:'center',color:'#1a1a1a'});
  return{name,value:[sx,cy],symbolSize:isCat?14:7.2,itemStyle:{color:isCat?'#E5C494':'#B3B3B3'}};});
function netEdges(cat,genes,col){const a=cnetOrder.indexOf(cat);return genes.map(g=>{const b=cnetOrder.indexOf(g);let d=b-a;
  const cw=d<=N/2,steps=cw?d:N-d;const c=(1-steps*15/180)*(cw?-1:1);
  return{source:cat,target:g,lineStyle:{color:col,curveness:c,width:2,opacity:.95}};});}
const keyCol={'ECM−receptor interaction':'#EE7A72','Focal adhesion':'#A8A82A','Human papillomavirus infection':'#35B583','Phagosome':'#2FB0EA','Proteoglycans in cancer':'#B87CC0'};
const netLinks=[].concat(
 netEdges(cnetOrder[0],cnetEcm,keyCol[cnetOrder[0]]),
 netEdges(cnetOrder[2],cnetHpv,keyCol[cnetOrder[2]]),
 netEdges(cnetOrder[3],cnetPhago,keyCol[cnetOrder[3]]),
 netEdges(cnetOrder[1],cnetProteo,keyCol[cnetOrder[1]]),
 netEdges(cnetOrder[4],cnetFocal,keyCol[cnetOrder[4]]));
series.push({type:'graph',coordinateSystem:'cartesian2d',xAxisIndex:netX,yAxisIndex:netY,layout:'none',data:netNodes,links:netLinks,silent:true,z:6});
seg(1307,600.3,1319.5,597.7,'#000',1.6);

/* network legend */
txt('category',1479,688,{size:8.9});
['ECM−receptor interaction','Focal adhesion','Human papillomavirus infection','Phagosome','Proteoglycans in cancer'].forEach((t,i)=>{
  const y=703.7+14.4*i;seg(1480,y,1492,y,keyCol[t],1.7);txt(t,1497.6,y,{size:7.6});});
txt('size',1479,779.3,{size:8.9});
[['3',795,7],['5',809.3,12],['7',824.3,14],['9',840.7,15.5],['11',859,17]].forEach(r=>{circ(1488,r[1],r[2],'#000');txt(r[0],1502,r[1],{size:7.5});});

/* panel letters */
[['A',10,14],['B',557,14],['C',1049,14],['D',10,492],['E',555,492],['F',1047,493]].forEach(r=>txt(r[0],r[1],r[2],{size:27,bold:true,color:'#000',align:'center'}));

const chart=echarts.init(document.getElementById('c'));
chart.setOption({animation:false,backgroundColor:'#fff',title:titles,grid:grids,xAxis:xAxes,yAxis:yAxes,series,graphic:{elements:gfx},
  visualMap:[
   {show:false,type:'continuous',seriesIndex:goIdx,dimension:2,min:.0016,max:.0479,inRange:{color:padjStops}},
   {show:false,type:'continuous',seriesIndex:keggIdx,dimension:2,min:.0007,max:.158,inRange:{color:padjStops}}]});
</script></body></html>
